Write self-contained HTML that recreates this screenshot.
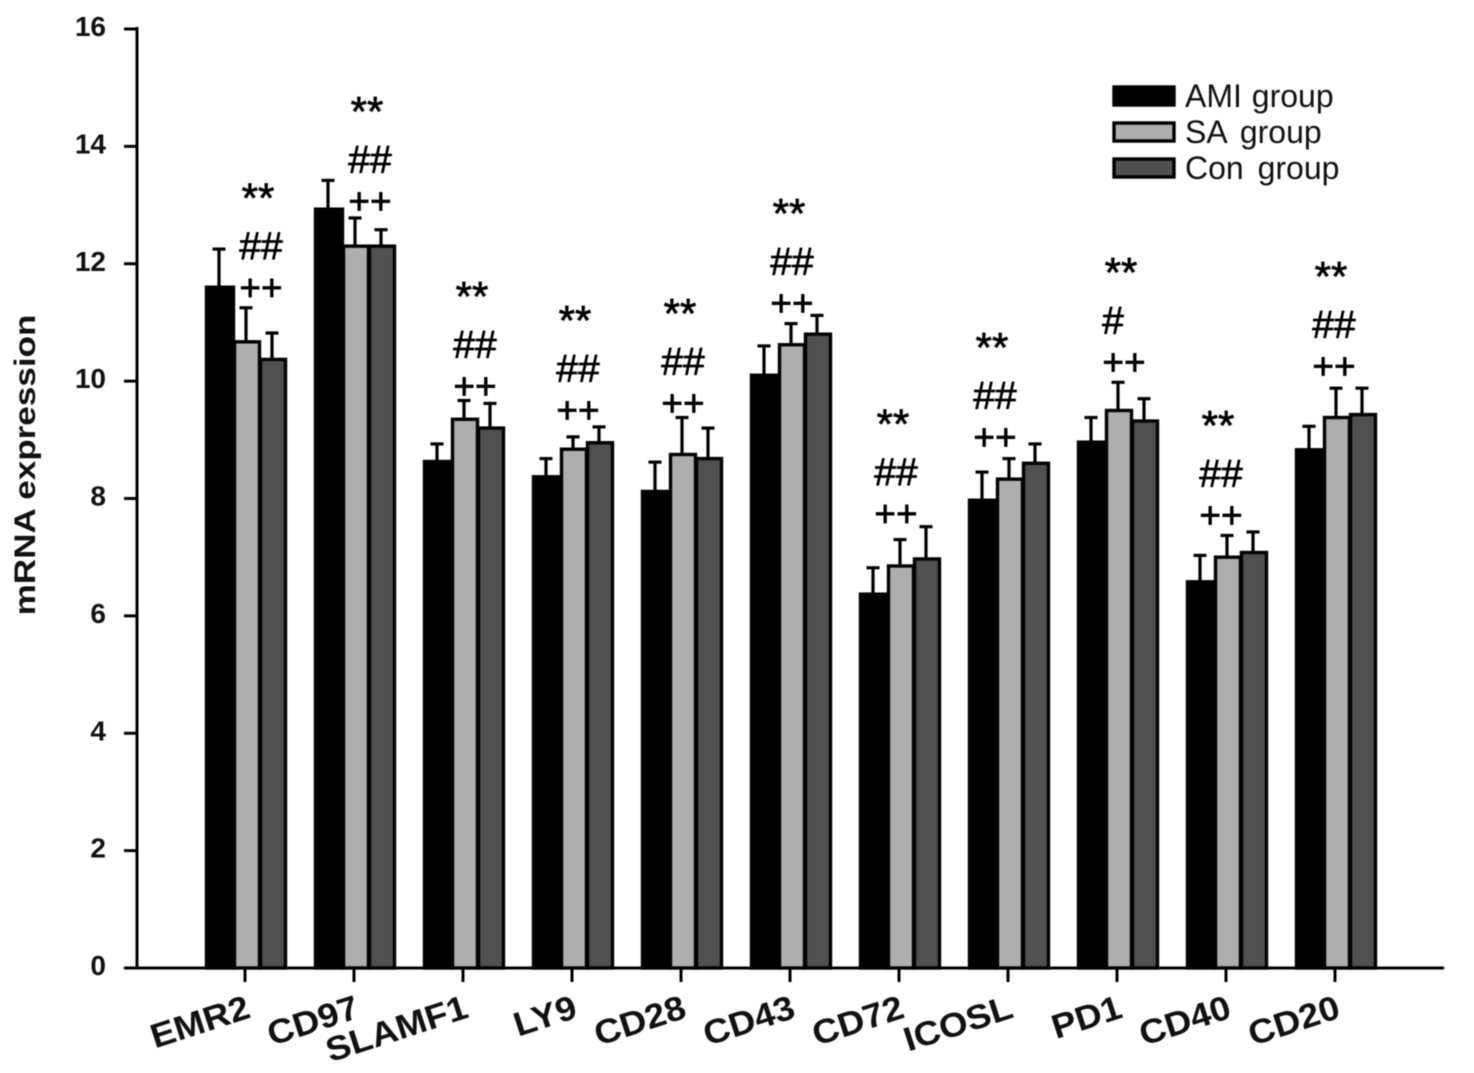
<!DOCTYPE html>
<html lang="en">
<head>
<meta charset="utf-8">
<title>mRNA expression by group</title>
<style>
html,body{margin:0;padding:0;background:#fff}
svg{display:block;font-family:"Liberation Sans",sans-serif;filter:blur(0.5px)}
</style>
</head>
<body>
<svg id="chart" xmlns="http://www.w3.org/2000/svg" width="1474" height="1073" viewBox="0 0 1474 1073"></svg>
<script>
const categories = ['EMR2','CD97','SLAMF1','LY9','CD28','CD43','CD72','ICOSL','PD1','CD40','CD20'];
const amiValues = [11.6,12.93,8.63,8.37,8.12,10.1,6.37,7.97,8.96,6.58,8.83];
const saValues = [10.67,12.3,9.35,8.84,8.75,10.62,6.85,8.33,9.5,7.0,9.38];
const conValues = [10.37,12.3,9.2,8.95,8.68,10.8,6.97,8.6,9.32,7.08,9.43];
const amiErrorTops = [12.25,13.42,8.93,8.68,8.62,10.6,6.82,8.45,9.38,7.03,9.23];
const saErrorTops = [11.25,12.78,9.67,9.05,9.38,10.98,7.3,8.68,9.98,7.37,9.88];
const conErrorTops = [10.82,12.58,9.62,9.22,9.2,11.12,7.52,8.93,9.7,7.43,9.88];
const starHeights = [13.2,14.67,11.52,11.11,11.23,12.93,9.35,10.65,11.93,9.32,11.86];
const hashLabels = ['##','##','##','##','##','##','##','##','#','##','##'];
const yTicks = [0,2,4,6,8,10,12,14,16];
const seriesNames = ['AMI group','SA group','Con group'];

const svg = document.getElementById('chart');
const NS = 'http://www.w3.org/2000/svg';
const make = (tag, props, text) => {
  const e = document.createElementNS(NS, tag);
  Object.entries(props).forEach(([k, v]) => e.setAttribute(k, v));
  if (text !== undefined) e.textContent = text;
  svg.appendChild(e);
  return e;
};
const yScale = v => 968 - v * (968 - 29) / 16;
const xScale = i => 245 + i * 109;

const series = [
  {key:'ami', values:amiValues, tops:amiErrorTops, fill:'#000000', left:-40, width:28},
  {key:'sa', values:saValues, tops:saErrorTops, fill:'#aeaeae', left:-12, width:26},
  {key:'con', values:conValues, tops:conErrorTops, fill:'#505050', left:14, width:26}
];

// error bars sit behind the bars
series.forEach(s => {
  categories.forEach((c, i) => {
    const cx = xScale(i) + s.left + s.width / 2;
    const stem = make('line', {x1:cx, x2:cx, y1:yScale(s.values[i]), y2:yScale(s.tops[i]), stroke:'#000', 'stroke-width':3.2});
    
    
    const cap = make('line', {x1:cx - 6.5, x2:cx + 6.5, y1:yScale(s.tops[i]), y2:yScale(s.tops[i]), stroke:'#000', 'stroke-width':3.2});
    
    
  });
});

series.forEach(s => {
  categories.forEach((c, i) => {
    const y = yScale(s.values[i]);
    const bar = make('rect', {x:xScale(i) + s.left + 1.5, y:y, width:s.width - 1, height:yScale(0) - y, fill:s.fill, stroke:'#000', 'stroke-width':3.4});
    
    
  });
});

// significance marks: hand-placed horizontally in the figure, one nudge per group
categories.forEach((c, i) => {
  const base = yScale(starHeights[i]);
  const nudge = [13,13,9,3,-1,-1,-6,-16,4,-8,-4][i];
  const cx = xScale(i) + nudge;
  const star = make('text', {x:cx, y:base + 19, 'text-anchor':'middle', 'font-size':42, fill:'#000', stroke:'#000', 'stroke-width':0.7}, '**');
  
  
  const hash = make('text', {x:hashLabels[i].length === 1 ? cx - 8 : cx + 3, y:base + 66, 'text-anchor':'middle', 'font-size':39, fill:'#000', stroke:'#000', 'stroke-width':0.7}, hashLabels[i]);
  
  
  const plus = make('text', {x:cx + 3, y:base + 107, 'text-anchor':'middle', 'font-size':37, fill:'#000', stroke:'#000', 'stroke-width':0.7}, '++');
  
  
});

// axes
const yAxis = make('line', {x1:137, x2:137, y1:27, y2:969, stroke:'#000', 'stroke-width':3});


const xAxis = make('line', {x1:124, x2:1444, y1:968, y2:968, stroke:'#000', 'stroke-width':3});



yTicks.forEach(t => {
  const y = yScale(t);
  const tick = make('line', {x1:124, x2:137, y1:y, y2:y, stroke:'#000', 'stroke-width':3});
  
  
  const label = make('text', {x:106, y:y + 7, 'text-anchor':'end', 'font-size':28, 'font-weight':'bold', fill:'#111'}, String(t));
  
  
});

categories.forEach((c, i) => {
  const x = xScale(i);
  const tick = make('line', {x1:x, x2:x, y1:968, y2:982, stroke:'#000', 'stroke-width':3});
  
  
  const label = make('text', {
    transform:'translate(' + (x + 7) + ',1017) rotate(-18) scale(1.08,1)',
    'text-anchor':'end', 'font-size':34, 'font-weight':'bold', fill:'#111'
  }, c);
  
  
});

const yTitle = make('text', {transform:'translate(35,465) rotate(-90) scale(1.17,1)', 'text-anchor':'middle', 'font-size':30, 'font-weight':'bold', fill:'#111'}, 'mRNA expression');



// legend
seriesNames.forEach((n, i) => {
  const y = 87 + i * 36;
  const swatch = make('rect', {x:1114, y:y, width:60, height:18, fill:series[i].fill, stroke:'#000', 'stroke-width':3.4});
  
  
  const label = make('text', {x:1185, y:y + 20, 'font-size':32, fill:'#111', 'word-spacing':i === 0 ? 1 : 5}, n);
  
  
});
</script>
</body>
</html>
